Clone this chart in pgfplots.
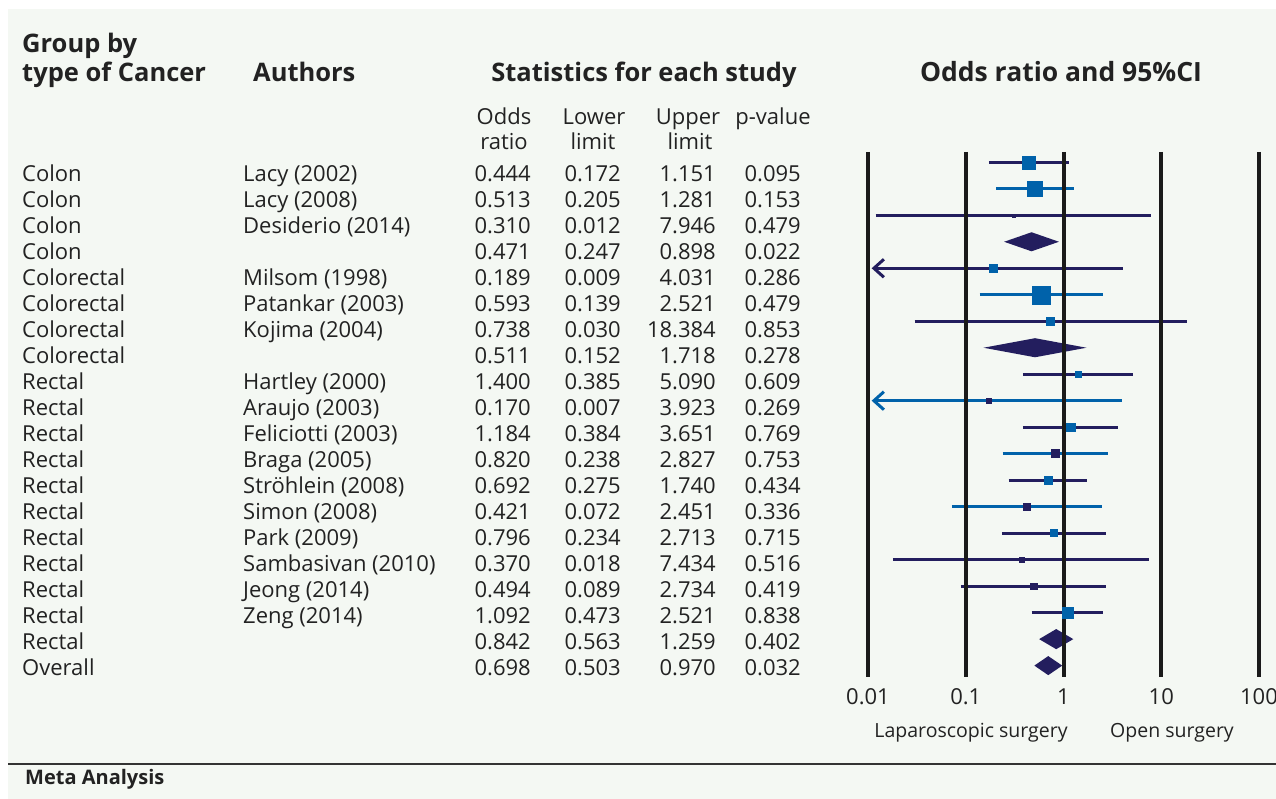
\documentclass[border=0pt]{standalone}
\usepackage{pgfplots}
\pgfplotsset{compat=1.18}
\usepackage{fontspec}
\setmainfont{Open Sans}
\usetikzlibrary{arrows.meta}
\definecolor{bg}{RGB}{244,248,243}
\definecolor{navy}{RGB}{35,30,94}
\definecolor{fblue}{RGB}{0,98,170}
\definecolor{vline}{RGB}{26,26,26}
\definecolor{txt}{RGB}{34,34,34}
\definecolor{rule}{RGB}{51,51,51}
\newcommand{\bodyfont}{\fontsize{22}{26}\selectfont}
\newcommand{\headfont}{\fontsize{25.5}{30}\selectfont\bfseries}
\begin{document}
\begin{tikzpicture}
\path[use as bounding box] (0pt,0pt) rectangle (1276pt,799pt);
\begin{scope}[x=1pt,y=1pt]
\fill[white] (0,0) rectangle (1276,799);
\fill[bg] (8,0) rectangle (1276,790);
\begin{scope}[every node/.style={inner sep=0pt, text=txt}]
\node[anchor=base west] at (22,746.7) {\headfont Group by};
\node[anchor=base west] at (22,717.3) {\headfont type of Cancer};
\node[anchor=base west] at (253,717.3) {\headfont Authors};
\node[anchor=base] at (644,717.3) {\headfont Statistics for each study};
\node[anchor=base] at (1061,717.3) {\fontsize{26.5}{30}\selectfont\bfseries Odds ratio and 95\%CI};
\node[anchor=base] at (504,674) {\bodyfont Odds};
\node[anchor=base] at (504,649) {\bodyfont ratio};
\node[anchor=base] at (594,674) {\bodyfont Lower};
\node[anchor=base] at (593,649) {\bodyfont limit};
\node[anchor=base] at (688,674) {\bodyfont Upper};
\node[anchor=base] at (690,649) {\bodyfont limit};
\node[anchor=base] at (773,674) {\bodyfont p-value};
\node[anchor=base] at (971,61.7) {\fontsize{19.5}{24}\selectfont Laparoscopic surgery};
\node[anchor=base] at (1172,61.7) {\fontsize{19.5}{24}\selectfont Open surgery};
\node[anchor=base west] at (25,14) {\fontsize{20}{24}\selectfont\bfseries Meta Analysis};
\foreach \i/\g/\a/\o/\l/\u/\p in {
1/Colon/Lacy (2002)/0.444/0.172/1.151/0.095,
2/Colon/Lacy (2008)/0.513/0.205/1.281/0.153,
3/Colon/Desiderio (2014)/0.310/0.012/7.946/0.479,
4/Colon/ /0.471/0.247/0.898/0.022,
5/Colorectal/Milsom (1998)/0.189/0.009/4.031/0.286,
6/Colorectal/Patankar (2003)/0.593/0.139/2.521/0.479,
7/Colorectal/Kojima (2004)/0.738/0.030/18.384/0.853,
8/Colorectal/ /0.511/0.152/1.718/0.278,
9/Rectal/Hartley (2000)/1.400/0.385/5.090/0.609,
10/Rectal/Araujo (2003)/0.170/0.007/3.923/0.269,
11/Rectal/Feliciotti (2003)/1.184/0.384/3.651/0.769,
12/Rectal/Braga (2005)/0.820/0.238/2.827/0.753,
13/Rectal/Ströhlein (2008)/0.692/0.275/1.740/0.434,
14/Rectal/Simon (2008)/0.421/0.072/2.451/0.336,
15/Rectal/Park (2009)/0.796/0.234/2.713/0.715,
16/Rectal/Sambasivan (2010)/0.370/0.018/7.434/0.516,
17/Rectal/Jeong (2014)/0.494/0.089/2.734/0.419,
18/Rectal/Zeng (2014)/1.092/0.473/2.521/0.838,
19/Rectal/ /0.842/0.563/1.259/0.402,
20/Overall/ /0.698/0.503/0.970/0.032}{
  \pgfmathsetmacro\yy{617.3-26*(\i-1)}
  \node[anchor=base west] at (22,\yy) {\bodyfont \g};
  \node[anchor=base west] at (243,\yy) {\bodyfont \a};
  \node[anchor=base east] at (531,\yy) {\bodyfont \o};
  \node[anchor=base east] at (621,\yy) {\bodyfont \l};
  \node[anchor=base east] at (716,\yy) {\bodyfont \u};
  \node[anchor=base east] at (801,\yy) {\bodyfont \p};
}
\end{scope}
\draw[line width=2.5pt, rule] (8,35) -- (1276,35);
\end{scope}
\begin{axis}[
  at={(868pt,122pt)}, anchor=south west,
  scale only axis, width=391pt, height=525pt,
  xmode=log, xmin=0.01, xmax=100,
  ymin=0.611, ymax=20.43, y dir=reverse,
  axis line style={draw=none},
  tick style={draw=none},
  ytick=\empty,
  xtick={0.01,0.1,1,10,100},
  xticklabels={0.01,0.1,1,10,100},
  xticklabel style={font=\fontsize{22}{26}\selectfont, text=txt, anchor=base, inner sep=0pt, yshift=-27pt},
  /pgf/number format/assume math mode=true,
  xmajorgrids, grid style={vline, line width=4pt},
  axis on top, clip=false,
]
% study rows: CI lines
\addplot[navy, line width=3pt] coordinates {(0.172,1) (1.151,1)};
\addplot[fblue, line width=3pt] coordinates {(0.205,2) (1.281,2)};
\addplot[navy, line width=3pt] coordinates {(0.012,3) (7.946,3)};
\addplot[navy, line width=3pt, {Straight Barb[length=10pt,width=18pt]}-] coordinates {(0.0109,5) (4.031,5)};
\addplot[fblue, line width=3pt] coordinates {(0.139,6) (2.521,6)};
\addplot[navy, line width=3pt] coordinates {(0.030,7) (18.384,7)};
\addplot[navy, line width=3pt] coordinates {(0.385,9) (5.090,9)};
\addplot[fblue, line width=3pt, {Straight Barb[length=10pt,width=18pt]}-] coordinates {(0.0109,10) (3.923,10)};
\addplot[navy, line width=3pt] coordinates {(0.384,11) (3.651,11)};
\addplot[fblue, line width=3pt] coordinates {(0.238,12) (2.827,12)};
\addplot[navy, line width=3pt] coordinates {(0.275,13) (1.740,13)};
\addplot[fblue, line width=3pt] coordinates {(0.072,14) (2.451,14)};
\addplot[navy, line width=3pt] coordinates {(0.234,15) (2.713,15)};
\addplot[navy, line width=3pt] coordinates {(0.018,16) (7.434,16)};
\addplot[navy, line width=3pt] coordinates {(0.089,17) (2.734,17)};
\addplot[navy, line width=3pt] coordinates {(0.473,18) (2.521,18)};
% point estimates
\addplot[only marks, mark=square*, mark size=6.5pt, fblue, mark options={draw=none}] coordinates {(0.444,1)};
\addplot[only marks, mark=square*, mark size=7.5pt, fblue, mark options={draw=none}] coordinates {(0.513,2)};
\addplot[only marks, mark=square*, mark size=1.5pt, navy, mark options={draw=none}] coordinates {(0.310,3)};
\addplot[only marks, mark=square*, mark size=4pt, fblue, mark options={draw=none}] coordinates {(0.189,5)};
\addplot[only marks, mark=square*, mark size=9pt, fblue, mark options={draw=none}] coordinates {(0.593,6)};
\addplot[only marks, mark=square*, mark size=4pt, fblue, mark options={draw=none}] coordinates {(0.738,7)};
\addplot[only marks, mark=square*, mark size=3pt, fblue, mark options={draw=none}] coordinates {(1.400,9)};
\addplot[only marks, mark=square*, mark size=2.5pt, navy, mark options={draw=none}] coordinates {(0.170,10)};
\addplot[only marks, mark=square*, mark size=4.3pt, fblue, mark options={draw=none}] coordinates {(1.184,11)};
\addplot[only marks, mark=square*, mark size=4pt, navy, mark options={draw=none}] coordinates {(0.820,12)};
\addplot[only marks, mark=square*, mark size=4pt, fblue, mark options={draw=none}] coordinates {(0.692,13)};
\addplot[only marks, mark=square*, mark size=3.3pt, navy, mark options={draw=none}] coordinates {(0.421,14)};
\addplot[only marks, mark=square*, mark size=3.5pt, fblue, mark options={draw=none}] coordinates {(0.796,15)};
\addplot[only marks, mark=square*, mark size=2.5pt, navy, mark options={draw=none}] coordinates {(0.370,16)};
\addplot[only marks, mark=square*, mark size=3.3pt, navy, mark options={draw=none}] coordinates {(0.494,17)};
\addplot[only marks, mark=square*, mark size=5.5pt, fblue, mark options={draw=none}] coordinates {(1.092,18)};
% pooled diamonds
\addplot[fill=navy, draw=none] coordinates {(0.247,4) (0.471,3.64) (0.898,4) (0.471,4.36) (0.247,4)};
\addplot[fill=navy, draw=none] coordinates {(0.152,8) (0.511,7.64) (1.718,8) (0.511,8.36) (0.152,8)};
\addplot[fill=navy, draw=none] coordinates {(0.563,19) (0.842,18.62) (1.259,19) (0.842,19.38) (0.563,19)};
\addplot[fill=navy, draw=none] coordinates {(0.503,20) (0.698,19.64) (0.970,20) (0.698,20.36) (0.503,20)};
\end{axis}
\end{tikzpicture}
\end{document}
